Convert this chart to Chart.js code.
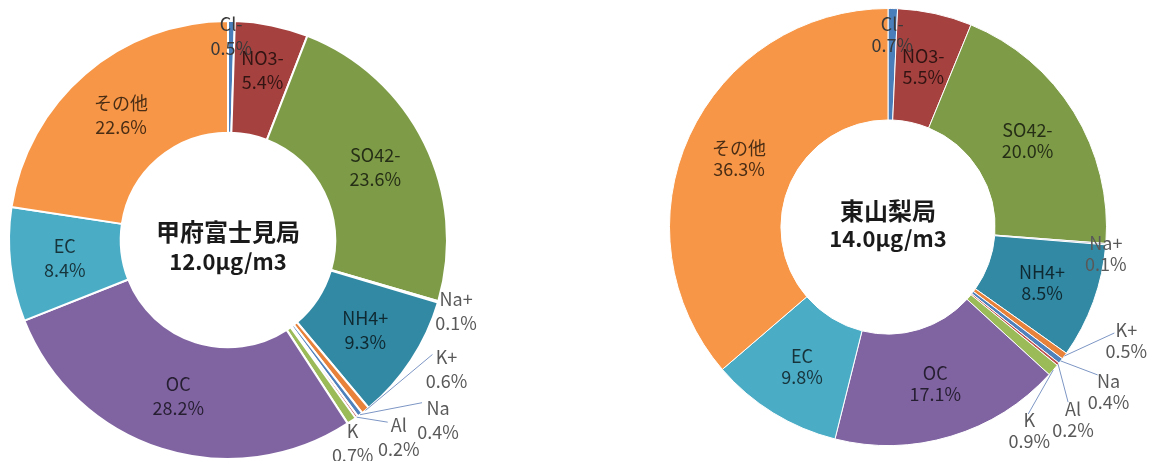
<!DOCTYPE html>
<html>
<head>
<meta charset="utf-8">
<script src="https://cdn.jsdelivr.net/npm/chart.js@4.4.1/dist/chart.umd.min.js"></script>
<style>
  html, body { margin: 0; padding: 0; background: #fff; }
  #wrap { position: relative; width: 1152px; height: 461px; overflow: hidden; }
  #wrap canvas { position: absolute; top: 0; }
</style>
</head>
<body>
<div id="wrap">
  <canvas id="kofu" width="576" height="461" style="left:0"></canvas>
  <canvas id="higashi" width="576" height="461" style="left:576px"></canvas>
</div>
<script>
// PM2.5 component shares (%) at the two stations
const components = ['Cl-', 'NO3-', 'SO42-', 'Na+', 'NH4+', 'K+', 'Na', 'Al', 'K', 'OC', 'EC', 'その他'];
const kofuShares = [0.5, 5.4, 23.6, 0.1, 9.3, 0.6, 0.4, 0.2, 0.7, 28.2, 8.4, 22.6];
const higashiShares = [0.7, 5.5, 20.0, 0.1, 8.5, 0.5, 0.4, 0.2, 0.9, 17.1, 9.8, 36.3];
const stationNames = ['甲府富士見局', '東山梨局'];
const stationTotals = ['12.0μg/m3', '14.0μg/m3'];

const sliceColors = ['#4A7EBB', '#A5423F', '#7E9C48', '#8A7AA8', '#3289A4', '#E8813A',
  '#4F81BD', '#C0504D', '#9BBB59', '#8064A2', '#4BACC6', '#F79646'];

const FONT = '"Noto Sans CJK JP", "Noto Sans", sans-serif';

// label placement: r = fraction of outer radius for inside labels,
// dx/dy = label offset from the slice's outer edge, lx/ly = leader line end
const kofuPlace = {
  'Cl-': { r: 0.93, plain: true },
  'NO3-': { r: 0.79 },
  'Na+': { dx: 18, dy: 9 },
  'K+': { dx: 81, dy: -41, lx: 67, ly: -56 },
  'Na': { dx: 78, dy: 5, lx: 62, ly: -12 },
  'Al': { dx: 42, dy: 20, lx: 31, ly: 5 },
  'K': { dx: 1, dy: 22 },
};
const higashiPlace = {
  'Cl-': { r: 0.88, plain: true },
  'Na+': { dx: 0, dy: 10 },
  'K+': { dx: 62, dy: -15, lx: 50, ly: -23 },
  'Na': { dx: 48, dy: 31, lx: 37, ly: 14 },
  'Al': { dx: 15, dy: 56, lx: 10, ly: 38 },
  'K': { dx: -24, dy: 61, lx: -25, ly: 44 },
};

function darken(hex, f = 0.3) {
  const n = parseInt(hex.slice(1), 16);
  const r = Math.round(((n >> 16) & 255) * f);
  const g = Math.round(((n >> 8) & 255) * f);
  const b = Math.round((n & 255) * f);
  return `rgb(${r},${g},${b})`;
}

const sliceLabels = {
  id: 'sliceLabels',
  afterDatasetsDraw(chart, args, opts) {
    const ctx = chart.ctx;
    const arcs = chart.getDatasetMeta(0).data;
    const values = chart.data.datasets[0].data;
    const lh = opts.lineHeight;
    ctx.save();
    ctx.textAlign = 'center';
    ctx.textBaseline = 'middle';
    ctx.font = `${opts.size}px ${FONT}`;
    arcs.forEach((arc, i) => {
      const name = chart.data.labels[i];
      const p = opts.place[name] || {};
      const mid = (arc.startAngle + arc.endAngle) / 2;
      const cos = Math.cos(mid), sin = Math.sin(mid);
      let x, y, color;
      if (p.dx !== undefined) {
        const ax = arc.x + cos * arc.outerRadius;
        const ay = arc.y + sin * arc.outerRadius;
        x = ax + p.dx;
        y = ay + p.dy;
        if (p.lx !== undefined) {
          ctx.strokeStyle = '#7d96c4';
          ctx.lineWidth = 1;
          ctx.beginPath();
          ctx.moveTo(ax, ay);
          ctx.lineTo(ax + p.lx, ay + p.ly);
          ctx.stroke();
        }
        color = '#595959';
      } else {
        const r = arc.outerRadius * (p.r || 0.75);
        x = arc.x + cos * r;
        y = arc.y + sin * r;
        color = p.plain ? '#3a3a3a' : darken(sliceColors[i]);
      }
      ctx.fillStyle = color;
      ctx.fillText(name, x, y - lh / 2);
      ctx.fillText(values[i].toFixed(1) + '%', x, y + lh / 2);
    });

    const cx = arcs[0].x, cy = arcs[0].y;
    ctx.fillStyle = '#1a1a1a';
    ctx.font = `bold 24px ${FONT}`;
    ctx.fillText(opts.title, cx, cy + opts.titleDy);
    ctx.font = `bold 22px ${FONT}`;
    ctx.fillText(opts.total, cx, cy + opts.totalDy);
    ctx.restore();
  }
};

function makeDonut(canvasId, shares, place, padding, border, lineHeight, idx, titleDy, totalDy) {
  return new Chart(document.getElementById(canvasId), {
    type: 'doughnut',
    data: {
      labels: components,
      datasets: [{
        data: shares,
        backgroundColor: sliceColors,
        borderColor: '#ffffff',
        borderWidth: border,
      }],
    },
    options: {
      responsive: false,
      animation: false,
      events: [],
      cutout: '49%',
      layout: { padding },
      plugins: {
        legend: { display: false },
        tooltip: { enabled: false },
        sliceLabels: {
          place, size: 18, lineHeight,
          title: stationNames[idx], total: stationTotals[idx],
          titleDy, totalDy,
        },
      },
    },
    plugins: [sliceLabels],
  });
}

makeDonut('kofu', kofuShares, kofuPlace, { left: 8, top: 20, right: 128, bottom: 1 }, 2, 24, 0, -8, 22);
makeDonut('higashi', higashiShares, higashiPlace, { left: 93, top: 8, right: 45, bottom: 15 }, 1, 21, 1, -16, 12);
</script>
</body>
</html>
